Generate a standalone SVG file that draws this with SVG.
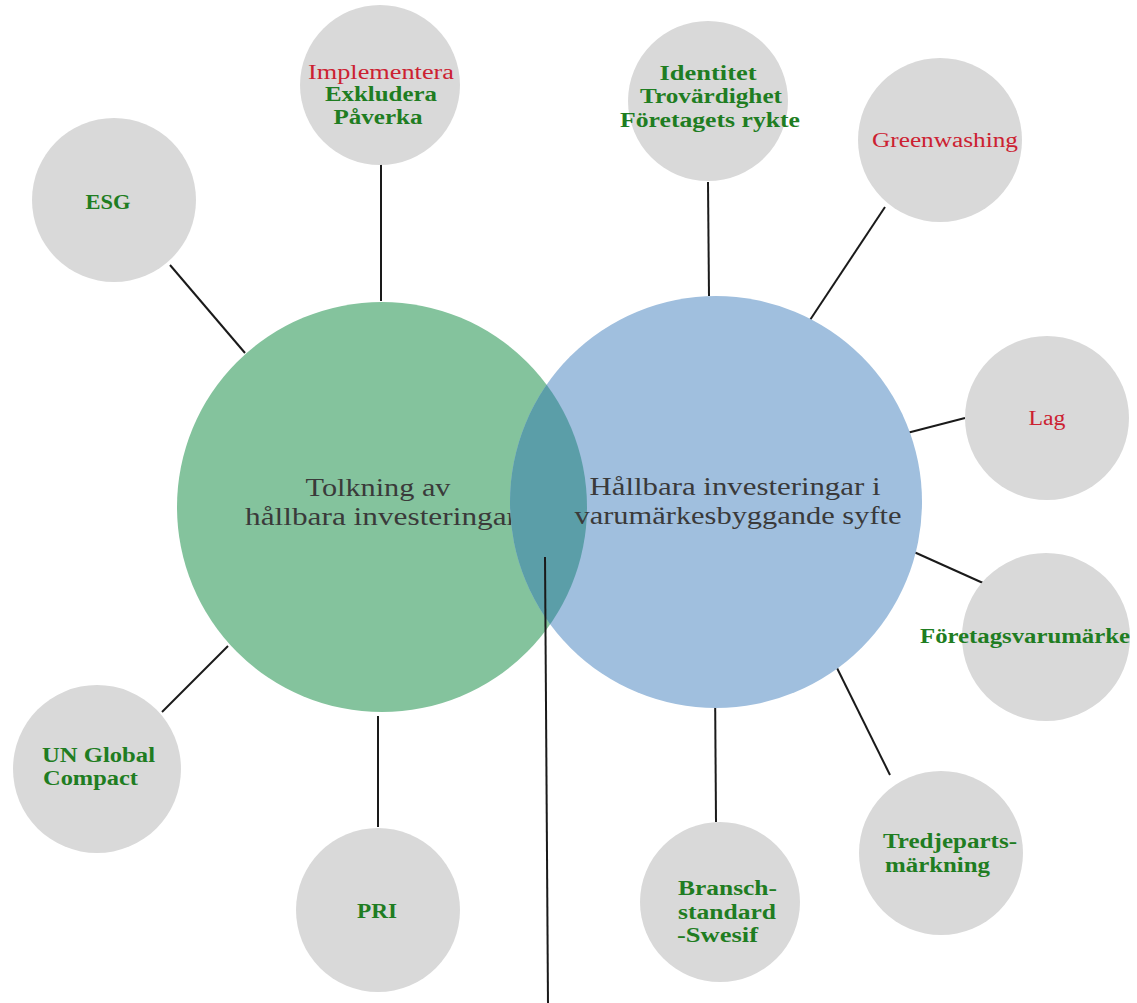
<svg xmlns="http://www.w3.org/2000/svg" width="1137" height="1003" viewBox="0 0 1137 1003">
  <style>
    .bubble { fill: #d9d9d9; }
    .lbl { font-family: "Liberation Serif", "DejaVu Serif", serif; font-size: 20px; }
    .g { fill: #1f7d22; font-weight: bold; }
    .r { fill: #cc2131; font-size: 20px; }
    .big { font-family: "Liberation Serif", "DejaVu Serif", serif; font-size: 25px; fill: #3a3a3a; text-anchor: middle; }
    .mid { text-anchor: middle; }
    .link { stroke: #1a1a1a; stroke-width: 2; fill: none; }
  </style>
  <defs>
    <clipPath id="greenClip">
      <circle cx="382" cy="507" r="205"/>
    </clipPath>
  </defs>
  <rect width="1137" height="1003" fill="#ffffff"/>

  <!-- connectors -->
  <g id="connectors">
    <line class="link" x1="170" y1="265" x2="245" y2="353"/>
    <line class="link" x1="381" y1="163" x2="381" y2="301"/>
    <line class="link" x1="708" y1="182" x2="709" y2="296"/>
    <line class="link" x1="885" y1="207" x2="810" y2="320"/>
    <line class="link" x1="965" y1="418" x2="907" y2="433"/>
    <line class="link" x1="914" y1="552" x2="983" y2="583"/>
    <line class="link" x1="837" y1="668" x2="890" y2="775"/>
    <line class="link" x1="715" y1="680" x2="716" y2="822"/>
    <line class="link" x1="378" y1="716" x2="378" y2="827"/>
    <line class="link" x1="228" y1="646" x2="162" y2="712"/>
  </g>

  <!-- central overlapping circles -->
  <g id="tolkning">
    <circle cx="382" cy="507" r="205" fill="#84c39d"/>
    <text class="big" x="378" y="496" textLength="145" lengthAdjust="spacingAndGlyphs">Tolkning av</text>
    <text class="big" x="381" y="525" textLength="272" lengthAdjust="spacingAndGlyphs">hållbara investeringar</text>
  </g>
  <g id="varumarke">
    <circle cx="716" cy="502" r="206" fill="#a0bfde"/>
    <circle cx="716" cy="502" r="206" fill="#5b9ea8" clip-path="url(#greenClip)"/>
    <text class="big" x="735" y="495" textLength="291" lengthAdjust="spacingAndGlyphs">Hållbara investeringar i</text>
    <text class="big" x="738" y="524" textLength="327" lengthAdjust="spacingAndGlyphs">varumärkesbyggande syfte</text>
  </g>

  <!-- line from the overlap -->
  <g id="overlap-link">
    <line class="link" x1="545" y1="557" x2="548" y2="1003"/>
  </g>

  <!-- outer bubbles -->
  <g id="esg">
    <circle class="bubble" cx="114" cy="200" r="82"/>
    <text class="lbl g mid" x="108" y="209" textLength="45" lengthAdjust="spacingAndGlyphs">ESG</text>
  </g>
  <g id="implementera">
    <circle class="bubble" cx="380" cy="85" r="80"/>
    <text class="lbl r mid" x="381" y="79" textLength="146" lengthAdjust="spacingAndGlyphs">Implementera</text>
    <text class="lbl g mid" x="381" y="101" textLength="112" lengthAdjust="spacingAndGlyphs">Exkludera</text>
    <text class="lbl g mid" x="378" y="124" textLength="89" lengthAdjust="spacingAndGlyphs">Påverka</text>
  </g>
  <g id="identitet">
    <circle class="bubble" cx="708" cy="101" r="80"/>
    <text class="lbl g mid" x="708" y="80" textLength="97" lengthAdjust="spacingAndGlyphs">Identitet</text>
    <text class="lbl g mid" x="711" y="103" textLength="142" lengthAdjust="spacingAndGlyphs">Trovärdighet</text>
    <text class="lbl g mid" x="710" y="127" textLength="180" lengthAdjust="spacingAndGlyphs">Företagets rykte</text>
  </g>
  <g id="greenwashing">
    <circle class="bubble" cx="940" cy="140" r="82"/>
    <text class="lbl r mid" x="945" y="147" textLength="146" lengthAdjust="spacingAndGlyphs">Greenwashing</text>
  </g>
  <g id="lag">
    <circle class="bubble" cx="1047" cy="418" r="82"/>
    <text class="lbl r mid" x="1047" y="425" textLength="37" lengthAdjust="spacingAndGlyphs">Lag</text>
  </g>
  <g id="foretagsvarumarke">
    <circle class="bubble" cx="1046" cy="637" r="84"/>
    <text class="lbl g mid" x="1025" y="643" textLength="210" lengthAdjust="spacingAndGlyphs">Företagsvarumärke</text>
  </g>
  <g id="tredjeparts">
    <circle class="bubble" cx="941" cy="853" r="82"/>
    <text class="lbl g" x="883" y="848" textLength="134" lengthAdjust="spacingAndGlyphs">Tredjeparts-</text>
    <text class="lbl g" x="885" y="872" textLength="105" lengthAdjust="spacingAndGlyphs">märkning</text>
  </g>
  <g id="bransch">
    <circle class="bubble" cx="720" cy="902" r="80"/>
    <text class="lbl g" x="678" y="895" textLength="99" lengthAdjust="spacingAndGlyphs">Bransch-</text>
    <text class="lbl g" x="678" y="919" textLength="98" lengthAdjust="spacingAndGlyphs">standard</text>
    <text class="lbl g" x="677" y="942" textLength="81" lengthAdjust="spacingAndGlyphs">-Swesif</text>
  </g>
  <g id="pri">
    <circle class="bubble" cx="378" cy="910" r="82"/>
    <text class="lbl g mid" x="377" y="918" textLength="40" lengthAdjust="spacingAndGlyphs">PRI</text>
  </g>
  <g id="un-global">
    <circle class="bubble" cx="97" cy="769" r="84"/>
    <text class="lbl g" x="42" y="762" textLength="113" lengthAdjust="spacingAndGlyphs">UN Global</text>
    <text class="lbl g" x="43" y="785" textLength="95" lengthAdjust="spacingAndGlyphs">Compact</text>
  </g>
</svg>
